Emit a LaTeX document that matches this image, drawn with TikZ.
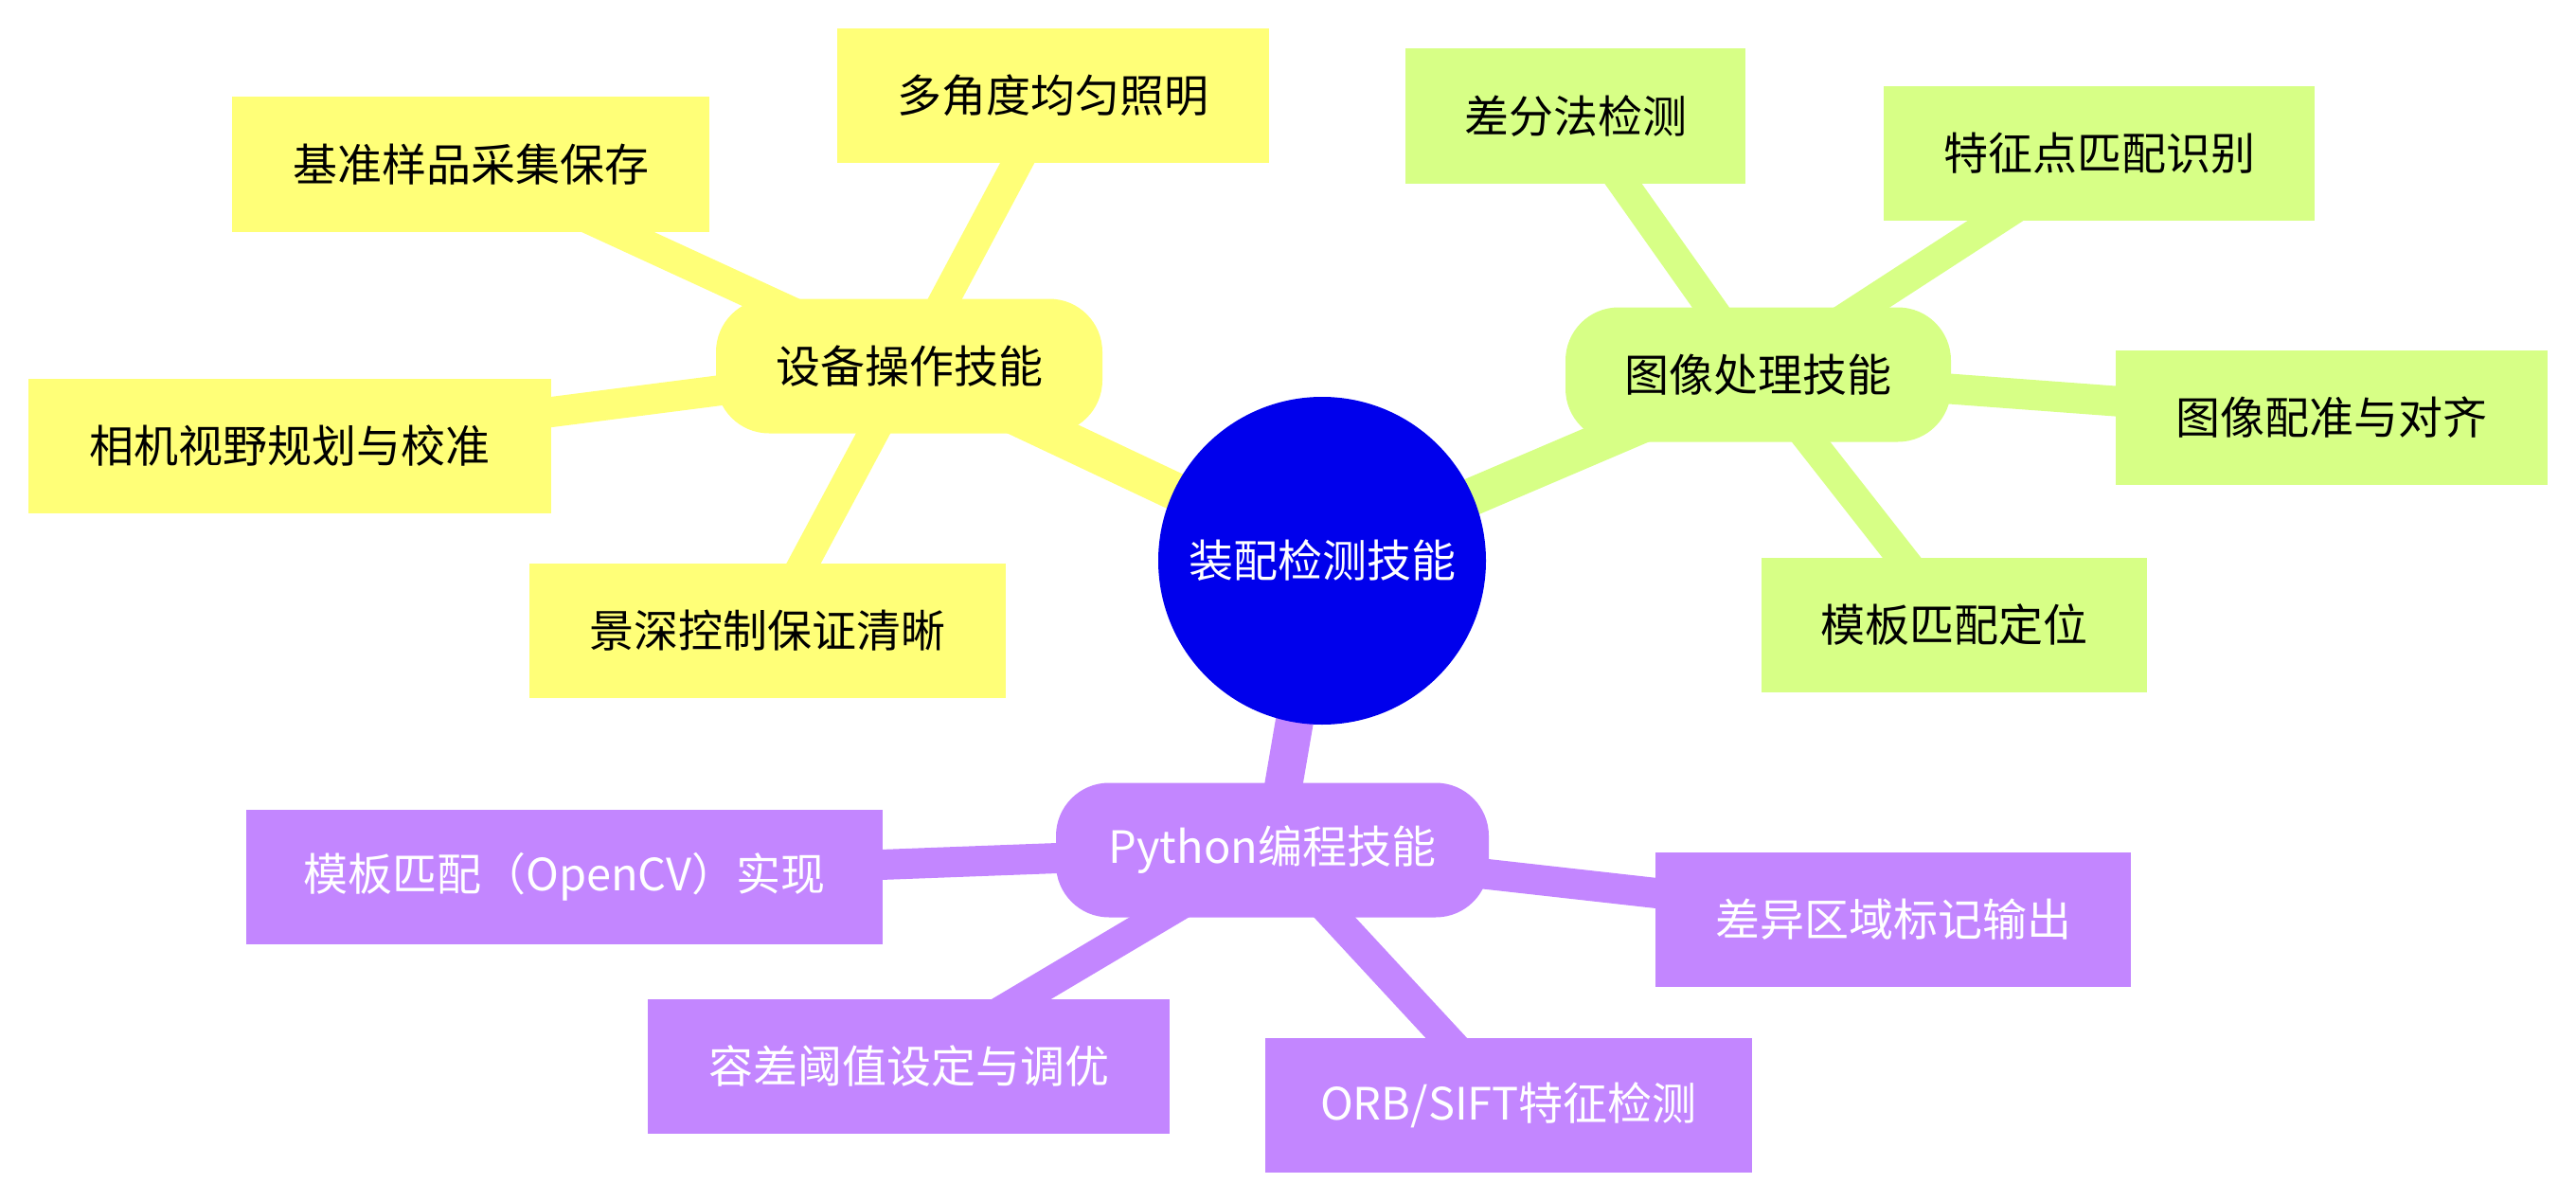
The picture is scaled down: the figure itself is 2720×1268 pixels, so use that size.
\documentclass[tikz,border=0pt]{standalone}
\usepackage{fontspec}
\setmainfont{Noto Sans CJK SC}
\usetikzlibrary{backgrounds}
\definecolor{rootc}{HTML}{0000EC}
\definecolor{yelc}{HTML}{FFFF78}
\definecolor{grnc}{HTML}{D7FF86}
\definecolor{purc}{HTML}{C386FF}
\tikzset{
  base/.style={inner sep=0pt, font=\fontsize{23.5}{28}\selectfont, minimum height=71pt, align=center},
  rootnode/.style={base, circle, fill=rootc, text=white, minimum size=173pt},
  mainY/.style={base, fill=yelc, text=black, rounded corners=28pt},
  mainG/.style={base, fill=grnc, text=black, rounded corners=28pt},
  mainP/.style={base, fill=purc, text=white, rounded corners=28pt},
  leafY/.style={base, fill=yelc, text=black},
  leafG/.style={base, fill=grnc, text=black},
  leafP/.style={base, fill=purc, text=white},
  edge0/.style={line width=20pt},
  edge1/.style={line width=16pt},
}
\begin{document}
\begin{tikzpicture}[x=0.5pt,y=-0.5pt]
\useasboundingbox (0,0) rectangle (2720,1268);
% nodes
\node[rootnode] (R) at (1396,592) {装配检测技能};
\node[mainY, minimum width=204pt] (Y) at (960,386.5) {设备操作技能};
\node[leafY, minimum width=228pt] (Y1) at (1112,101) {多角度均匀照明};
\node[leafY, minimum width=252pt] (Y2) at (497,173.5) {基准样品采集保存};
\node[leafY, minimum width=276pt] (Y3) at (306,470.5) {相机视野规划与校准};
\node[leafY, minimum width=251.5pt] (Y4) at (810.5,666) {景深控制保证清晰};
\node[mainG, minimum width=203.5pt] (G) at (1856.5,395.5) {图像处理技能};
\node[leafG, minimum width=179.5pt] (G1) at (1663.5,122.5) {差分法检测};
\node[leafG, minimum width=227.5pt] (G2) at (2216.5,162) {特征点匹配识别};
\node[leafG, minimum width=228pt] (G3) at (2462,440.5) {图像配准与对齐};
\node[leafG, minimum width=203.5pt] (G4) at (2063.5,659.5) {模板匹配定位};
\node[mainP, minimum width=228.5pt] (P) at (1343.5,897.5) {Python编程技能};
\node[leafP, minimum width=336pt] (P1) at (596,925.5) {模板匹配（OpenCV）实现};
\node[leafP, minimum width=251pt] (P2) at (1999,971) {差异区域标记输出};
\node[leafP, minimum width=275.5pt] (P3) at (959.5,1125.5) {容差阈值设定与调优};
\node[leafP, minimum width=257pt] (P4) at (1593,1167) {ORB/SIFT特征检测};
% edges behind the nodes
\begin{scope}[on background layer]
\draw[edge0, yelc] (R.center) -- (Y.center);
\draw[edge0, grnc] (R.center) -- (G.center);
\draw[edge0, purc] (R.center) -- (P.center);
\draw[edge1, yelc] (Y.center) -- (Y1.center);
\draw[edge1, yelc] (Y.center) -- (Y2.center);
\draw[edge1, yelc] (Y.center) -- (Y3.center);
\draw[edge1, yelc] (Y.center) -- (Y4.center);
\draw[edge1, grnc] (G.center) -- (G1.center);
\draw[edge1, grnc] (G.center) -- (G2.center);
\draw[edge1, grnc] (G.center) -- (G3.center);
\draw[edge1, grnc] (G.center) -- (G4.center);
\draw[edge1, purc] (P.center) -- (P1.center);
\draw[edge1, purc] (P.center) -- (P2.center);
\draw[edge1, purc] (P.center) -- (P3.center);
\draw[edge1, purc] (P.center) -- (P4.center);
\end{scope}
\end{tikzpicture}
\end{document}
